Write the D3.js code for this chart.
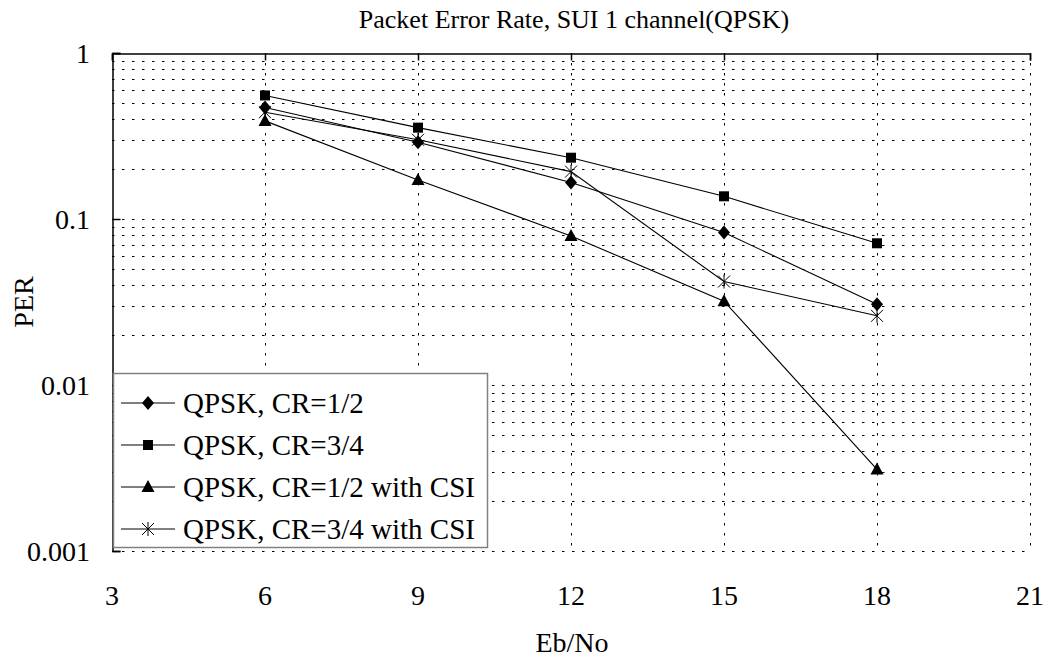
<!DOCTYPE html>
<html>
<head>
<meta charset="utf-8">
<script src="https://cdn.jsdelivr.net/npm/d3@7"></script>
<style>
  body { margin: 0; background: #fff; }
  svg { display: block; font-family: "Liberation Serif", "Times New Roman", serif; }
  .grid line { stroke: #000; stroke-width: 1; stroke-dasharray: 2.5,7.5; }
</style>
</head>
<body>
<div class="chart"></div>
<script>
// data
var ebno = [6, 9, 12, 15, 18];
var perCR12 = [0.47, 0.29, 0.166, 0.083, 0.0306];
var perCR34 = [0.555, 0.355, 0.234, 0.137, 0.0714];
var perCR12csi = [0.39, 0.172, 0.079, 0.032, 0.0031];
var perCR34csi = [0.44, 0.30, 0.193, 0.042, 0.0261];
var seriesNames = ['QPSK, CR=1/2', 'QPSK, CR=3/4', 'QPSK, CR=1/2 with CSI', 'QPSK, CR=3/4 with CSI'];
var markers = ['diamond', 'square', 'triangle', 'star'];
var xTicks = [3, 6, 9, 12, 15, 18, 21];
var yTicks = [0.001, 0.01, 0.1, 1];
var yTickLabels = ['0.001', '0.01', '0.1', '1'];

var series = [perCR12, perCR34, perCR12csi, perCR34csi].map(function(vals, i) {
  return {
    name: seriesNames[i],
    marker: markers[i],
    points: vals.map(function(v, j) { return { x: ebno[j], y: v }; })
  };
});

var W = 1049, H = 662;
var margin = { top: 53, right: 19, bottom: 111, left: 112 };
var width = W - margin.left - margin.right;
var height = H - margin.top - margin.bottom;

var xScale = d3.scaleLinear().domain([3, 21]).range([0, width]);
var yScale = d3.scaleLog().domain([0.001, 1]).range([height, 0]);

var root = d3.select('.chart').append('svg')
    .attr('width', W)
    .attr('height', H);

var svg = root.append('g')
    .attr('transform', 'translate(' + margin.left + ',' + margin.top + ')');

// minor + major horizontal grid (1..9 per decade)
var yGrid = [];
for (var k = -3; k < 0; k++) {
  for (var m = 1; m <= 9; m++) yGrid.push(m * Math.pow(10, k));
}

var grid = svg.append('g').attr('class', 'grid');
grid.selectAll('.hg')
    .data(yGrid)
  .enter().append('line')
    .attr('class', 'hg')
    .attr('x1', 0).attr('x2', width)
    .attr('y1', function(d) { return Math.round(yScale(d)) + 0.5; })
    .attr('y2', function(d) { return Math.round(yScale(d)) + 0.5; });

grid.selectAll('.vg')
    .data(xTicks.slice(1))
  .enter().append('line')
    .attr('class', 'vg')
    .attr('x1', function(d) { return Math.round(xScale(d)) + 0.5; })
    .attr('x2', function(d) { return Math.round(xScale(d)) + 0.5; })
    .attr('y1', 0).attr('y2', height);

// x axis line sits at PER = 1 (top), labels low
svg.append('g')
    .attr('class', 'x axis')
    .attr('transform', 'translate(0,0.5)')
    .call(d3.axisBottom(xScale).tickValues(xTicks).tickSize(7).tickFormat(''))
    .call(function(g) {
      g.select('.domain').attr('stroke', '#000').attr('stroke-width', 1.5);
      g.selectAll('.tick line').attr('stroke', '#000').attr('stroke-width', 1.5);
    });

svg.append('g')
    .attr('class', 'y axis')
    .attr('transform', 'translate(0.5,0)')
    .call(d3.axisRight(yScale).tickValues(yTicks).tickSize(8).tickFormat(''))
    .call(function(g) {
      g.select('.domain').attr('stroke', '#000').attr('stroke-width', 1.5);
      g.selectAll('.tick line').attr('stroke', '#000').attr('stroke-width', 1.5);
    });

svg.append('g')
    .selectAll('text')
    .data(xTicks)
  .enter().append('text')
    .attr('x', function(d) { return xScale(d); })
    .attr('y', height + 54)
    .attr('text-anchor', 'middle')
    .style('font-size', '28px')
    .text(function(d) { return d; });

svg.append('g')
    .selectAll('text')
    .data(yTicks)
  .enter().append('text')
    .attr('x', -22)
    .attr('y', function(d) { return yScale(d) + 10; })
    .attr('text-anchor', 'end')
    .style('font-size', '28px')
    .text(function(d, i) { return yTickLabels[i]; });

// series lines
var line = d3.line()
    .x(function(d) { return xScale(d.x); })
    .y(function(d) { return yScale(d.y); });

function drawMarker(g, type) {
  if (type === 'diamond') {
    g.append('path').attr('d', 'M0,-7L6,0L0,7L-6,0Z').attr('fill', '#000');
  } else if (type === 'square') {
    g.append('rect').attr('x', -5).attr('y', -5).attr('width', 10).attr('height', 10).attr('fill', '#000');
  } else if (type === 'triangle') {
    g.append('path').attr('d', 'M0,-7L6.5,5L-6.5,5Z').attr('fill', '#000');
  } else {
    g.append('path').attr('d', 'M0,-7L0,7M-6,-6L6,6M-6,6L6,-6')
        .attr('stroke', '#000').attr('stroke-width', 1).attr('fill', 'none');
  }
}

series.forEach(function(s) {
  svg.append('path')
      .datum(s.points)
      .attr('fill', 'none')
      .attr('stroke', '#000')
      .attr('stroke-width', 1.1)
      .attr('d', line);
});

series.forEach(function(s) {
  svg.append('g').selectAll('g')
      .data(s.points)
    .enter().append('g')
      .attr('transform', function(d) { return 'translate(' + xScale(d.x) + ',' + yScale(d.y) + ')'; })
      .each(function() { drawMarker(d3.select(this), s.marker); });
});

// legend
var legend = svg.append('g').attr('transform', 'translate(1,320)');
legend.append('rect')
    .attr('x', 0.5).attr('y', 0.5)
    .attr('width', 374).attr('height', 174)
    .attr('fill', '#fff')
    .attr('stroke', '#808080')
    .attr('stroke-width', 1.5);

series.forEach(function(s, i) {
  var row = legend.append('g').attr('transform', 'translate(0,' + (30 + i * 42) + ')');
  row.append('line')
      .attr('x1', 8).attr('x2', 62)
      .attr('y1', 0).attr('y2', 0)
      .attr('stroke', '#000');
  drawMarker(row.append('g').attr('transform', 'translate(35,0)'), s.marker);
  row.append('text')
      .attr('x', 70).attr('y', 10)
      .style('font-size', '29px')
      .text(s.name);
});

// titles
root.append('text')
    .attr('x', 574).attr('y', 28)
    .attr('text-anchor', 'middle')
    .style('font-size', '26px')
    .text('Packet Error Rate, SUI 1 channel(QPSK)');

root.append('text')
    .attr('x', 572).attr('y', 652)
    .attr('text-anchor', 'middle')
    .style('font-size', '28px')
    .text('Eb/No');

root.append('text')
    .attr('transform', 'translate(33,' + (margin.top + height / 2) + ') rotate(-90)')
    .attr('text-anchor', 'middle')
    .style('font-size', '28px')
    .text('PER');
</script>
</body>
</html>
